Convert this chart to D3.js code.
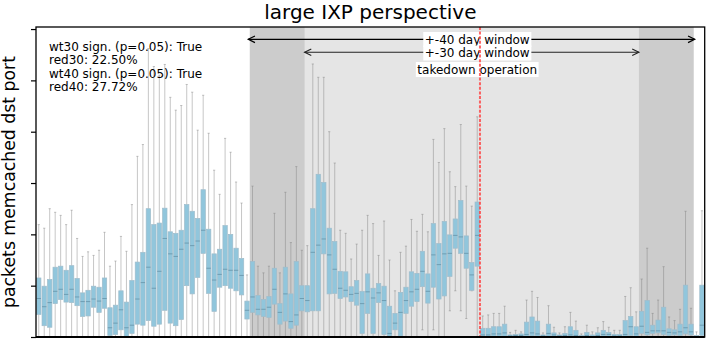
<!DOCTYPE html>
<html><head><meta charset="utf-8">
<script src="https://cdn.jsdelivr.net/npm/d3@7"></script>
<style>
body{margin:0;background:#fff}
text{font-family:"DejaVu Sans",sans-serif}
</style>
</head><body><svg id="c" width="706" height="340"></svg>
<script>
// ---- data (units: y-axis tick steps) ----
const q3 = [1.15,0.99,1.12,1.36,1.38,1.30,1.39,1.14,0.86,0.91,0.99,0.97,1.15,0.57,0.62,0.90,0.68,1.10,1.46,1.65,
  2.50,2.19,2.22,2.51,2.05,2.02,2.08,2.58,2.45,2.31,2.87,2.10,1.62,1.71,2.17,2.00,1.73,1.53,0.70,1.47,
  0.81,0.73,0.79,1.34,0.65,1.36,0.84,1.47,1.00,1.00,2.50,3.17,3.01,2.12,1.86,1.28,1.27,0.98,1.10,0.89,
  1.23,0.95,1.04,0.99,0.60,0.46,0.87,0.97,1.27,1.24,1.67,1.23,2.21,1.82,2.25,1.99,2.30,2.66,1.97,1.45,
  2.63,0.17,0.17,0.20,0.20,0.25,0.04,0.05,0.06,0.29,0.39,0.31,0.04,0.25,0.08,0.04,0.07,0.20,0.13,0.03,
  0.09,0.04,0.08,0.13,0.09,0.05,0.05,0.32,0.40,0.20,0.50,0.71,0.23,0.33,0.58,0.16,0.14,0.25,1.01,0.25,
  0.03,1.01];
const median = [0.75,0.59,0.67,0.89,0.93,0.83,0.93,0.78,0.69,0.69,0.74,0.70,0.75,0.18,0.27,0.53,0.18,0.23,0.74,1.06,
  1.36,0.95,1.28,1.92,1.62,1.57,1.71,1.83,1.78,1.87,2.08,1.34,1.11,1.22,1.32,1.30,1.30,1.20,0.52,0.78,
  0.54,0.54,0.58,0.93,0.48,0.84,0.30,0.43,0.75,0.71,1.65,1.79,1.91,1.60,1.32,0.95,0.91,0.83,0.85,0.65,
  0.88,0.76,0.86,0.71,0.07,0.27,0.48,0.71,0.88,0.93,1.28,0.89,1.60,1.41,1.62,1.63,1.98,1.95,1.63,1.21,
  1.98,0.04,0.04,0.06,0.06,0.08,0.02,0.03,0.03,0.05,0.08,0.06,0.02,0.07,0.04,0.02,0.03,0.04,0.03,0.01,
  0.03,0.01,0.03,0.05,0.05,0.02,0.02,0.05,0.20,0.06,0.21,0.09,0.12,0.12,0.12,0.09,0.08,0.10,0.18,0.10,
  0.01,0.23];
const q1 = [0.44,0.22,0.19,0.65,0.73,0.68,0.67,0.61,0.40,0.41,0.58,0.48,0.56,0.03,0.05,0.14,0.01,0.07,0.25,0.23,
  0.32,0.21,0.25,0.52,0.27,0.22,0.34,1.00,0.84,1.16,1.63,0.85,0.50,0.97,1.00,0.95,0.90,0.82,0.35,0.48,
  0.43,0.40,0.38,0.64,0.25,0.31,0.17,0.23,0.51,0.49,0.51,0.51,1.62,0.84,0.85,0.75,0.78,0.69,0.62,0.07,
  0.46,0.07,0.67,0.05,0.00,0.14,0.00,0.46,0.60,0.69,0.98,0.66,0.97,0.74,0.80,1.18,1.73,1.63,1.34,0.91,
  1.38,0.01,0.01,0.01,0.01,0.01,0.00,0.00,0.00,0.01,0.02,0.01,0.00,0.01,0.01,0.00,0.00,0.01,0.00,0.00,
  0.00,0.00,0.00,0.01,0.00,0.00,0.00,0.01,0.03,0.01,0.07,0.04,0.07,0.08,0.05,0.03,0.04,0.03,0.06,0.04,
  0.00,0.03];
const whiskerHigh = [2.19,2.12,2.50,2.43,2.37,2.19,2.47,1.92,1.57,1.66,1.59,1.69,2.04,1.38,1.48,1.96,1.67,2.58,3.52,3.75,
  5.62,5.27,5.10,5.31,4.67,4.42,4.51,4.92,4.77,4.03,4.71,3.97,3.25,2.78,3.87,3.60,3.02,2.61,1.21,2.94,
  1.38,1.25,1.38,2.41,1.25,2.82,1.84,3.32,1.69,1.78,5.32,5.06,5.06,4.00,3.39,2.08,2.02,1.52,1.81,2.08,
  2.37,2.21,1.59,2.26,1.50,0.90,1.65,1.77,2.29,2.06,2.39,2.05,3.85,3.40,4.06,3.22,2.93,4.14,2.94,2.55,
  4.29,0.41,0.43,0.46,0.46,0.60,0.09,0.13,0.10,0.72,0.89,0.77,0.08,0.61,0.19,0.08,0.20,0.48,0.31,0.06,
  0.23,0.10,0.18,0.30,0.19,0.13,0.13,0.79,0.96,0.49,1.13,1.73,0.46,0.72,1.37,0.39,0.32,0.54,2.45,0.56,
  0.10,2.46];
const whiskerLow = q1.map((v, i) => ({70:0.14,72:0.14,75:0.51,76:0.90,77:0.51,78:0.36,79:0.90})[i] ?? 0);
const days = d3.range(q3.length);
const yTicks = [0, 1, 2, 3, 4, 5, 6];
const takedownDay = 80.5;
const labelDay = 80;
const window40 = [38.5, 119.5];
const window30 = [48.5, 109.5];
const titleText = "large IXP perspective";
const yLabelText = "packets memcached dst port";
const statsLines = ["wt30 sign. (p=0.05): True", "red30: 22.50%", "wt40 sign. (p=0.05): True", "red40: 27.72%"];

// ---- layout ----
const L = 36, R = 704.7, T = 27, B = 337;
const svg = d3.select("#c");
const x = d3.scaleLinear().domain([-0.5, days.length - 0.5]).range([L, R]);
const y = d3.scaleLinear().domain([0, 6.04]).range([B, T]);
const step = x(1) - x(0);

svg.append("defs").append("clipPath").attr("id", "clip")
  .append("rect").attr("x", L).attr("y", T).attr("width", R - L).attr("height", B - T);

const g = svg.append("g").attr("clip-path", "url(#clip)");

// shaded windows
g.append("rect").attr("x", x(window40[0])).attr("y", T).attr("width", x(window40[1]) - x(window40[0]))
  .attr("height", B - T).attr("fill", "#cccccc");
g.append("rect").attr("x", x(window30[0])).attr("y", T).attr("width", x(window30[1]) - x(window30[0]))
  .attr("height", B - T).attr("fill", "#e5e5e5");

// whiskers
const bw = step * 0.8, cw = step * 0.4;
const wg = g.append("g").attr("stroke", "#808080").attr("stroke-opacity", 0.45).attr("stroke-width", 1);
days.forEach(i => {
  const cx = x(i);
  wg.append("line").attr("x1", cx).attr("x2", cx).attr("y1", y(q3[i])).attr("y2", y(whiskerHigh[i]));
  wg.append("line").attr("x1", cx).attr("x2", cx).attr("y1", y(q1[i])).attr("y2", y(whiskerLow[i]));
  wg.append("line").attr("x1", cx - cw / 2).attr("x2", cx + cw / 2).attr("y1", y(whiskerHigh[i])).attr("y2", y(whiskerHigh[i]));
  wg.append("line").attr("x1", cx - cw / 2).attr("x2", cx + cw / 2).attr("y1", y(whiskerLow[i])).attr("y2", y(whiskerLow[i]));
});

// boxes
g.append("g").selectAll("rect").data(days).join("rect")
  .attr("x", i => x(i) - bw / 2).attr("width", bw)
  .attr("y", i => y(q3[i])).attr("height", i => Math.max(0.5, y(q1[i]) - y(q3[i])))
  .attr("fill", "#91c6dc").attr("stroke", "#9fbccb").attr("stroke-width", 0.7);
g.append("g").selectAll("line").data(days).join("line")
  .attr("x1", i => x(i) - bw / 2).attr("x2", i => x(i) + bw / 2)
  .attr("y1", i => y(median[i])).attr("y2", i => y(median[i]))
  .attr("stroke", "#6f9db2").attr("stroke-width", 1);

// stats text
const st = svg.append("g");
statsLines.forEach((s, k) => {
  st.append("text").attr("x", 49).attr("y", 50.5 + k * 13.5).attr("font-size", 12).attr("fill", "#000").text(s);
});

// arrows + labels
function arrow(x1, x2, yy, color, w) {
  const a = svg.append("g").attr("stroke", color).attr("stroke-width", w).attr("fill", "none");
  a.append("line").attr("x1", x1).attr("x2", x2).attr("y1", yy).attr("y2", yy);
  const hl = 6.7, hw = 3.3;
  a.append("path").attr("d", `M${x1 + hl},${yy - hw}L${x1},${yy}L${x1 + hl},${yy + hw}`);
  a.append("path").attr("d", `M${x2 - hl},${yy - hw}L${x2},${yy}L${x2 - hl},${yy + hw}`);
}
arrow(x(window40[0]) - 1.5, x(window40[1]) + 1, 39.3, "#000", 1.2);
arrow(x(window30[0]), x(window30[1]), 52.3, "#222", 1.1);

function boxedLabel(txt, cx, baseline) {
  const gg = svg.append("g");
  const r = gg.append("rect").attr("fill", "#fff");
  const t = gg.append("text").attr("x", cx).attr("y", baseline).attr("text-anchor", "middle")
    .attr("font-size", 12).attr("fill", "#000").text(txt);
  const bb = t.node().getBBox();
  r.attr("x", bb.x - 1.5).attr("y", bb.y - 0.5).attr("width", bb.width + 3).attr("height", bb.height + 1);
}
boxedLabel("+-40 day window", x(labelDay), 43.5);
boxedLabel("+-30 day window", x(labelDay), 57);
boxedLabel("takedown operation", x(labelDay), 73.5);

// takedown line
svg.append("line").attr("x1", x(takedownDay)).attr("x2", x(takedownDay)).attr("y1", T).attr("y2", B)
  .attr("stroke", "#ff4040").attr("stroke-opacity", 0.8).attr("stroke-width", 2).attr("stroke-dasharray", "3,1.6");

// y axis ticks
const ya = svg.append("g").attr("transform", `translate(${L},0)`)
  .call(d3.axisLeft(y).tickValues(yTicks).tickFormat("").tickSize(5));
ya.select(".domain").remove();
ya.selectAll(".tick line").attr("stroke", "#000").attr("stroke-width", 1.2);

// frame
svg.append("rect").attr("x", L).attr("y", T).attr("width", R - L).attr("height", B - T)
  .attr("fill", "none").attr("stroke", "#000").attr("stroke-width", 1.3);
svg.append("line").attr("x1", L).attr("x2", R).attr("y1", B).attr("y2", B).attr("stroke", "#000").attr("stroke-width", 1.8);

// title + y label
svg.append("text").attr("x", (L + R) / 2).attr("y", 19).attr("text-anchor", "middle")
  .attr("font-size", 20).attr("fill", "#000").text(titleText);
svg.append("text").attr("transform", `translate(15,${(T + B) / 2}) rotate(-90)`).attr("text-anchor", "middle")
  .attr("font-size", 17.3).attr("fill", "#000").text(yLabelText);
</script>
</body></html>
